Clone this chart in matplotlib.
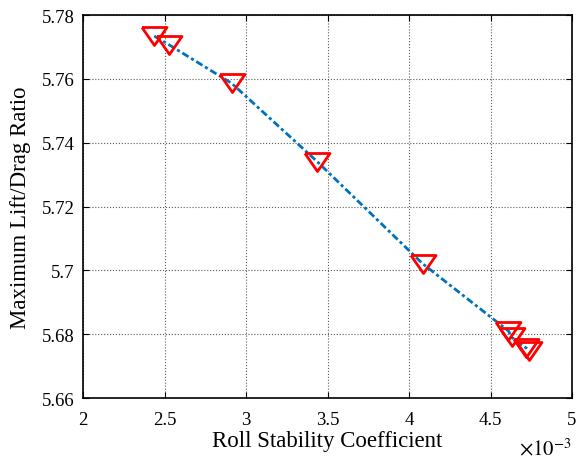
import matplotlib.pyplot as plt
from matplotlib.ticker import FuncFormatter

plt.rcParams['font.family'] = 'Liberation Serif'
plt.rcParams['mathtext.fontset'] = 'stix'

# roll stability coefficient and max lift/drag ratio
roll_x = [2.437e-3, 2.530e-3, 2.912e-3, 3.436e-3, 4.083e-3, 4.61e-3, 4.63e-3, 4.72e-3, 4.735e-3]
ld_y = [5.7734, 5.7706, 5.7586, 5.7341, 5.7021, 5.6810, 5.6790, 5.6756, 5.6748]

x_ticks = [2e-3, 2.5e-3, 3e-3, 3.5e-3, 4e-3, 4.5e-3, 5e-3]
x_labels = ['2', '2.5', '3', '3.5', '4', '4.5', '5']
y_ticks = [5.66, 5.68, 5.70, 5.72, 5.74, 5.76, 5.78]

fig = plt.figure(figsize=(5.79, 4.60), dpi=100)
ax = fig.add_axes([0.1434, 0.1326, 0.8446, 0.8326])

# wide MATLAB-style down triangle
tri = [(-1, 0.72), (1, 0.72), (0, -0.72), (-1, 0.72)]
ax.plot(roll_x, ld_y, color='#0072BD', linewidth=2, dashes=(2.6, 1.1, 1.1, 1.1),
        marker=tri, markersize=18, markerfacecolor='none',
        markeredgecolor='red', markeredgewidth=2)

ax.set_xlim(2e-3, 5e-3)
ax.set_ylim(5.66, 5.78)
ax.set_xticks(x_ticks)
ax.set_xticklabels(x_labels)
ax.set_yticks(y_ticks)
ax.yaxis.set_major_formatter(FuncFormatter(lambda v, p: '%g' % round(v, 2)))

ax.grid(True, color='#333333', linestyle=':', linewidth=0.8, alpha=0.8)
ax.tick_params(direction='in', top=True, right=True, labelsize=13.5, length=4)
ax.tick_params(axis='x', pad=9)
ax.tick_params(axis='y', pad=6)
for s in ax.spines.values():
    s.set_linewidth(1.2)

ax.set_xlabel('Roll Stability Coefficient', fontsize=16.5, labelpad=2)
ax.set_ylabel('Maximum Lift/Drag Ratio', fontsize=16.5, labelpad=8)
ax.text(1.0, -0.146, r'$\times10^{-3}$', transform=ax.transAxes,
        ha='right', va='baseline', fontsize=15)

fig.savefig('out.png', dpi=100)
